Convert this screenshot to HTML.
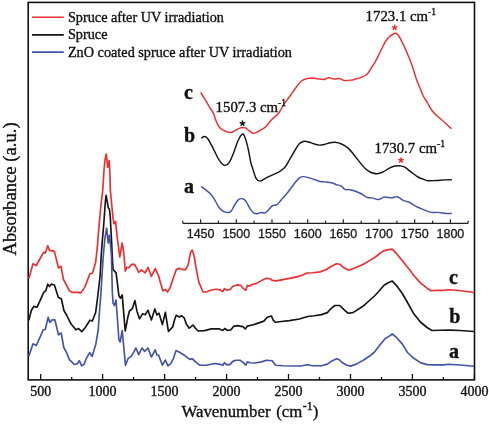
<!DOCTYPE html>
<html><head><meta charset="utf-8"><style>
html,body{margin:0;padding:0;background:#fff;}
svg{display:block;filter:blur(0.3px);}
text{font-family:"Liberation Serif",serif;fill:#111;stroke:#111;stroke-width:0.35px;}
.tl{font-size:14px;text-anchor:middle;}
.itl{font-family:"Liberation Sans",sans-serif;font-size:12.5px;text-anchor:middle;fill:#1a1a1a;stroke:#1a1a1a;stroke-width:0.3px;}
.lg{font-size:14.25px;}
.an{font-size:14.8px;}
.sup{font-size:9.5px;}
.ast{font-size:15px;text-anchor:middle;}
.cl{font-size:20px;font-weight:bold;}
.ax{font-size:16.8px;}
.axsup{font-size:12px;}
.ax2{font-size:18.7px;}
</style></head>
<body><svg width="489" height="424" viewBox="0 0 489 424">
<rect x="0" y="0" width="489" height="424" fill="#fff"/>
<rect x="28.2" y="2.4" width="446.3" height="377.5" fill="none" stroke="#111" stroke-width="1.6"/>
<path d="M40.7,379.9 V373.9 M102.6,379.9 V373.9 M164.6,379.9 V373.9 M226.6,379.9 V373.9 M288.5,379.9 V373.9 M350.5,379.9 V373.9 M412.4,379.9 V373.9 M474.4,379.9 V373.9 M71.7,379.9 V376.9 M133.6,379.9 V376.9 M195.6,379.9 V376.9 M257.5,379.9 V376.9 M319.5,379.9 V376.9 M381.5,379.9 V376.9 M443.4,379.9 V376.9" stroke="#111" stroke-width="1.3" fill="none"/>
<text x="40.7" y="396" class="tl">500</text>
<text x="102.6" y="396" class="tl">1000</text>
<text x="164.6" y="396" class="tl">1500</text>
<text x="226.6" y="396" class="tl">2000</text>
<text x="288.5" y="396" class="tl">2500</text>
<text x="350.5" y="396" class="tl">3000</text>
<text x="412.4" y="396" class="tl">3500</text>
<text x="474.4" y="396" class="tl">4000</text>
<path d="M182.8,223.3 H468.2 M200.6,223.3 V219.3 M236.3,223.3 V219.3 M272.0,223.3 V219.3 M307.7,223.3 V219.3 M343.3,223.3 V219.3 M379.0,223.3 V219.3 M414.7,223.3 V219.3 M450.4,223.3 V219.3 M182.8,223.3 V220.8 M218.4,223.3 V220.8 M254.1,223.3 V220.8 M289.8,223.3 V220.8 M325.5,223.3 V220.8 M361.2,223.3 V220.8 M396.9,223.3 V220.8 M432.6,223.3 V220.8 M468.2,223.3 V220.8" stroke="#222" stroke-width="1.2" fill="none"/>
<text x="200.6" y="237.8" class="itl">1450</text>
<text x="236.3" y="237.8" class="itl">1500</text>
<text x="272.0" y="237.8" class="itl">1550</text>
<text x="307.7" y="237.8" class="itl">1600</text>
<text x="343.3" y="237.8" class="itl">1650</text>
<text x="379.0" y="237.8" class="itl">1700</text>
<text x="414.7" y="237.8" class="itl">1750</text>
<text x="450.4" y="237.8" class="itl">1800</text>
<path d="M28.8,278.7 L33.0,263.8 L36.3,265.5 L40.4,258.0 L43.7,252.3 L45.3,253.1 L47.8,245.7 L49.5,250.6 L51.9,250.6 L54.4,251.4 L58.5,268.0 L61.0,266.3 L63.5,279.5 L69.3,290.7 L72.6,292.4 L77.5,292.4 L80.8,292.9 L85.0,286.9 L89.9,273.7 L92.4,273.2 L95.7,262.2 L97.5,245.0 L99.1,225.0 L100.8,206.5 L102.8,190.0 L104.0,170.0 L105.0,160.0 L106.3,154.0 L107.8,167.3 L109.2,160.5 L110.0,175.0 L110.3,190.0 L111.5,202.4 L112.7,214.8 L113.9,223.8 L115.6,221.4 L116.9,234.4 L119.8,257.0 L122.2,243.0 L123.8,253.1 L125.3,271.2 L126.9,267.3 L129.0,267.7 L131.6,264.3 L134.6,264.3 L138.8,272.4 L141.4,269.9 L145.2,272.8 L148.0,267.3 L151.4,276.3 L155.2,268.6 L158.6,275.8 L160.7,283.5 L162.9,290.7 L165.4,289.4 L167.5,292.0 L170.1,287.7 L173.5,277.5 L176.4,269.4 L179.9,268.4 L182.3,269.4 L185.6,269.7 L188.1,264.8 L190.6,252.4 L192.2,249.9 L193.9,254.9 L196.4,269.7 L198.8,282.1 L203.0,292.0 L206.3,292.0 L211.2,290.0 L216.2,289.2 L220.3,290.0 L222.8,291.5 L224.4,288.7 L226.9,290.3 L230.2,289.5 L232.7,286.5 L236.8,284.9 L240.9,285.4 L242.6,287.9 L245.8,290.3 L247.4,285.4 L249.1,286.2 L251.6,284.8 L256.5,283.4 L261.5,280.6 L266.4,278.3 L270.5,278.8 L272.2,280.4 L276.3,280.9 L282.9,279.6 L289.5,278.4 L297.8,276.6 L302.7,275.0 L306.8,273.0 L312.6,272.7 L320.0,271.9 L326.6,269.5 L331.5,266.2 L336.5,263.7 L339.8,264.2 L343.9,267.8 L348.8,270.3 L354.6,268.1 L362.9,264.5 L371.1,259.6 L375.0,257.3 L379.1,254.0 L383.2,251.1 L387.3,249.9 L392.3,249.1 L397.2,254.4 L403.0,261.5 L409.6,269.7 L413.8,275.5 L420.4,282.9 L427.0,288.2 L431.1,290.8 L436.9,290.3 L443.5,290.3 L448.5,289.8 L456.7,290.3 L465.0,291.2 L474.0,292.5" stroke="#ee2d2d" stroke-width="1.65" fill="none" stroke-linejoin="round"/>
<path d="M28.8,320.4 L31.3,310.5 L33.8,306.4 L37.1,307.2 L40.4,299.8 L43.7,292.4 L45.8,290.7 L47.8,284.1 L49.5,286.6 L51.1,284.1 L54.4,285.0 L58.3,297.3 L61.4,299.0 L63.9,310.5 L66.8,315.5 L70.9,323.8 L75.9,329.8 L78.6,328.6 L81.8,331.6 L85.3,327.5 L89.9,320.2 L92.4,321.0 L95.7,312.3 L97.9,295.0 L100.2,275.0 L101.1,257.0 L102.4,240.0 L103.7,225.0 L105.3,202.4 L106.1,195.4 L107.4,202.4 L108.2,207.7 L109.4,209.0 L110.3,217.2 L110.7,225.0 L111.5,240.0 L112.3,257.0 L113.1,269.6 L116.1,272.9 L118.9,295.7 L120.5,298.2 L122.2,294.9 L125.2,331.0 L127.9,317.0 L129.5,311.0 L132.3,308.7 L134.9,300.6 L137.0,311.4 L139.5,318.8 L142.5,313.8 L145.3,314.7 L148.0,310.2 L151.4,320.0 L154.8,308.9 L156.9,314.9 L159.0,313.2 L162.4,324.6 L165.4,312.3 L168.4,331.4 L172.6,327.2 L174.5,320.0 L176.2,315.3 L179.4,317.0 L181.5,315.7 L184.1,317.8 L186.6,324.6 L189.2,328.2 L193.0,325.1 L195.5,328.3 L198.1,331.0 L204.6,330.6 L211.2,328.9 L219.5,328.9 L222.8,330.5 L224.7,328.5 L227.7,330.5 L231.0,329.7 L233.5,326.4 L237.6,325.6 L240.9,326.4 L242.5,326.4 L245.3,328.9 L247.4,326.1 L253.2,324.8 L258.2,323.1 L263.9,321.1 L267.2,317.3 L271.4,316.0 L273.0,319.8 L275.5,322.3 L281.3,321.5 L289.5,320.6 L299.4,319.0 L307.7,316.5 L314.3,315.7 L321.6,314.6 L327.4,312.6 L330.7,308.8 L334.8,305.5 L339.8,305.5 L343.9,309.6 L348.0,313.2 L353.0,312.6 L362.9,306.3 L370.0,300.0 L375.0,295.5 L379.1,291.0 L384.0,285.2 L388.2,282.7 L392.3,281.1 L397.2,286.4 L402.0,293.0 L407.5,302.5 L413.8,313.8 L420.4,322.0 L427.0,327.5 L432.0,330.5 L440.2,330.3 L450.1,330.1 L460.0,330.5 L474.0,331.5" stroke="#141414" stroke-width="1.65" fill="none" stroke-linejoin="round"/>
<path d="M28.8,356.2 L33.0,343.8 L36.3,345.5 L40.4,336.4 L43.2,329.8 L45.3,329.5 L48.1,317.4 L49.9,322.4 L51.9,319.9 L54.9,319.9 L58.5,334.8 L61.2,333.0 L63.8,347.5 L66.6,352.6 L69.4,359.7 L74.2,364.4 L77.0,364.0 L79.3,360.7 L81.7,365.8 L84.0,364.4 L86.4,358.3 L89.7,352.6 L92.1,356.4 L95.8,344.2 L98.2,330.0 L99.6,310.0 L100.7,296.5 L103.2,257.0 L104.9,238.5 L106.6,228.2 L108.2,243.0 L109.4,235.2 L110.7,246.8 L111.5,257.0 L112.3,292.0 L113.1,303.1 L114.4,305.6 L116.0,300.0 L117.5,320.0 L118.9,339.5 L120.2,342.0 L122.2,330.5 L125.5,365.3 L128.0,358.7 L131.3,356.2 L133.7,352.1 L135.9,348.0 L138.7,354.6 L142.0,348.0 L144.5,351.3 L148.0,348.1 L151.4,357.0 L155.2,349.8 L156.9,354.9 L158.6,355.3 L162.4,365.1 L165.4,360.0 L168.0,365.9 L170.9,363.4 L173.5,358.3 L176.0,350.6 L179.0,352.0 L183.2,354.5 L186.5,356.9 L189.8,359.4 L192.2,358.6 L195.5,361.9 L199.7,365.2 L206.3,365.2 L214.5,363.5 L220.3,364.4 L222.8,365.2 L224.4,362.7 L226.9,364.9 L230.2,364.4 L232.7,361.4 L236.0,360.2 L240.1,360.2 L243.3,362.7 L245.8,365.2 L247.4,361.9 L249.9,362.7 L254.9,363.0 L261.5,361.9 L266.4,360.2 L272.2,360.7 L275.5,365.2 L282.9,365.7 L292.8,366.0 L301.1,366.0 L306.8,364.7 L312.6,365.7 L321.6,365.8 L327.4,364.1 L331.5,361.2 L336.5,358.7 L338.9,359.5 L342.2,362.5 L346.4,365.0 L350.5,366.1 L356.3,364.1 L364.5,359.5 L370.0,355.8 L374.1,352.5 L379.9,345.1 L385.3,338.5 L389.0,336.4 L392.3,334.0 L396.4,337.3 L402.2,343.9 L407.5,352.5 L413.8,358.3 L420.4,362.6 L427.0,364.6 L435.3,364.9 L443.5,364.9 L448.5,364.2 L460.0,365.0 L474.0,366.2" stroke="#4353a8" stroke-width="1.65" fill="none" stroke-linejoin="round"/>
<path d="M200.6,92.4 C201.3,93.6 203.6,96.9 205.0,99.3 C206.4,101.7 207.8,104.2 209.2,106.6 C210.6,108.9 212.4,111.2 213.5,113.4 C214.6,115.6 214.8,117.7 215.6,119.8 C216.4,121.9 217.5,124.4 218.6,126.0 C219.7,127.6 220.6,128.6 222.0,129.5 C223.4,130.4 225.5,131.2 227.1,131.7 C228.7,132.2 229.9,132.8 231.3,132.6 C232.7,132.4 233.9,131.1 235.4,130.3 C236.9,129.5 239.1,128.4 240.3,127.9 C241.5,127.4 241.9,127.4 242.7,127.4 C243.5,127.4 244.3,127.4 245.3,127.9 C246.3,128.4 247.4,129.4 248.6,130.3 C249.8,131.2 251.8,132.6 252.7,133.1 C253.6,133.6 253.2,133.3 254.0,133.1 C254.8,132.9 256.7,132.3 257.7,131.8 C258.7,131.3 258.5,131.2 259.9,130.3 C261.2,129.5 263.8,128.5 265.8,126.7 C267.8,124.9 269.8,121.6 271.8,119.5 C273.8,117.4 276.2,115.9 277.7,114.3 C279.2,112.7 279.5,111.8 280.7,109.9 C281.9,108.1 283.2,105.4 284.7,103.2 C286.2,101.0 287.7,99.2 289.6,96.5 C291.5,93.8 294.3,89.7 296.2,87.2 C298.1,84.7 299.5,82.7 301.2,81.3 C302.9,79.9 304.2,79.4 306.1,78.8 C308.0,78.2 310.8,77.9 312.7,77.9 C314.6,77.9 316.0,78.5 317.7,78.8 C319.4,79.0 321.4,79.3 322.6,79.4 C323.8,79.5 323.9,79.5 325.0,79.2 C326.1,78.9 327.6,77.8 329.1,77.8 C330.6,77.8 332.3,78.9 334.1,79.0 C335.9,79.1 338.1,78.3 339.9,78.6 C341.7,78.9 342.8,80.4 344.8,80.6 C346.9,80.8 350.5,80.2 352.2,80.0 C353.9,79.8 353.6,79.6 355.0,79.2 C356.4,78.8 358.6,78.6 360.7,77.7 C362.8,76.8 365.6,75.6 367.3,74.0 C369.0,72.4 369.8,70.2 371.0,68.3 C372.2,66.4 373.5,64.8 374.8,62.6 C376.1,60.4 377.3,57.6 378.6,55.1 C379.9,52.6 381.2,49.8 382.4,47.5 C383.5,45.2 384.4,43.2 385.5,41.5 C386.6,39.8 387.3,38.6 388.8,37.3 C390.3,36.0 393.0,34.0 394.4,33.5 C395.8,33.0 396.4,33.2 397.3,34.0 C398.2,34.8 399.0,36.2 400.1,38.2 C401.2,40.2 402.6,43.1 403.9,45.8 C405.1,48.5 406.3,51.0 407.6,54.2 C408.9,57.4 410.4,60.8 411.9,65.0 C413.4,69.2 415.1,75.4 416.5,79.5 C417.9,83.6 419.5,86.7 420.6,89.4 C421.7,92.1 421.9,93.3 423.0,95.5 C424.1,97.7 425.7,99.9 427.2,102.4 C428.7,104.9 430.2,108.2 432.1,110.7 C434.0,113.2 436.6,115.4 438.7,117.3 C440.8,119.2 442.4,120.3 444.5,122.2 C446.6,124.1 450.2,127.7 451.4,128.8" stroke="#ee2d2d" stroke-width="1.45" fill="none"/>
<path d="M201.1,138.2 C201.7,137.9 203.5,136.4 204.7,136.5 C205.8,136.6 206.6,137.1 208.0,139.0 C209.4,140.9 211.3,144.9 213.0,148.1 C214.7,151.3 216.4,155.4 217.9,158.0 C219.4,160.6 220.8,162.5 222.0,163.7 C223.2,164.9 224.1,165.7 225.3,165.4 C226.6,165.1 228.1,164.2 229.5,162.1 C230.9,160.0 232.2,156.4 233.6,153.0 C235.0,149.6 236.3,144.6 237.7,141.5 C239.1,138.4 240.7,135.5 241.8,134.5 C242.9,133.5 243.3,133.7 244.3,135.7 C245.3,137.7 246.5,141.9 247.6,146.4 C248.7,150.9 250.1,159.3 250.9,162.9 C251.7,166.5 251.7,165.4 252.5,167.9 C253.3,170.4 254.6,175.6 255.8,177.8 C257.0,180.0 258.4,181.0 259.9,181.1 C261.4,181.2 263.0,179.6 264.9,178.6 C266.8,177.6 269.3,176.4 271.5,175.3 C273.7,174.2 275.9,173.6 278.1,172.3 C280.3,171.0 282.8,169.7 284.7,167.6 C286.6,165.5 288.0,162.3 289.6,159.5 C291.2,156.7 293.0,153.5 294.6,150.8 C296.2,148.2 297.9,145.2 299.5,143.6 C301.1,142.0 302.9,141.4 304.5,141.2 C306.1,141.0 307.8,141.8 309.4,142.3 C311.0,142.8 312.8,143.5 314.4,144.0 C316.0,144.5 317.6,145.0 319.3,145.1 C321.0,145.2 322.5,144.9 324.3,144.5 C326.1,144.1 328.2,143.2 330.0,142.8 C331.8,142.4 333.0,142.1 334.9,142.3 C336.8,142.5 339.3,143.0 341.5,144.0 C343.7,145.0 346.0,146.3 348.1,148.1 C350.2,149.9 352.0,152.4 353.9,154.7 C355.8,157.0 357.8,159.8 359.7,162.1 C361.6,164.4 363.5,167.0 365.4,168.7 C367.3,170.4 369.3,171.7 371.2,172.5 C373.1,173.3 375.1,173.8 377.0,173.7 C378.9,173.6 380.7,172.9 382.8,172.0 C384.9,171.1 387.3,169.2 389.4,168.2 C391.4,167.2 393.4,166.4 395.1,166.0 C396.8,165.6 398.2,165.6 399.8,165.8 C401.4,166.0 402.9,166.1 404.8,167.2 C406.7,168.3 409.2,170.7 411.4,172.3 C413.6,173.9 415.9,175.8 418.0,177.0 C420.1,178.2 422.1,178.8 423.7,179.4 C425.3,180.0 425.8,180.5 427.9,180.7 C430.0,180.9 433.4,180.6 436.1,180.5 C438.9,180.4 441.8,180.0 444.4,179.9 C447.0,179.8 450.6,179.7 451.8,179.7" stroke="#141414" stroke-width="1.45" fill="none"/>
<path d="M201.1,186.7 C201.8,187.2 203.9,188.5 205.5,189.7 C207.1,190.9 209.0,192.2 210.5,193.8 C212.0,195.5 213.2,197.4 214.6,199.6 C216.0,201.8 217.3,205.1 218.7,207.0 C220.1,208.9 221.4,210.3 222.9,211.2 C224.4,212.1 226.4,212.5 227.8,212.5 C229.2,212.5 230.0,212.4 231.1,211.2 C232.2,210.0 233.2,207.3 234.4,205.4 C235.6,203.5 237.1,200.7 238.5,199.6 C239.9,198.5 241.4,198.5 242.7,198.8 C243.9,199.1 244.8,199.7 246.0,201.3 C247.2,203.0 248.8,206.7 250.1,208.7 C251.4,210.7 252.8,212.4 254.0,213.2 C255.2,214.0 256.2,213.8 257.3,213.7 C258.4,213.6 259.4,212.6 260.6,212.5 C261.9,212.4 263.6,213.2 264.8,212.9 C266.1,212.6 266.9,211.6 268.1,210.4 C269.3,209.2 270.7,206.9 272.2,205.9 C273.7,204.9 275.6,205.6 277.1,204.6 C278.6,203.6 279.5,201.8 281.3,199.7 C283.1,197.6 285.7,194.9 287.9,192.2 C290.1,189.4 292.6,185.6 294.5,183.2 C296.4,180.8 297.9,179.0 299.4,177.9 C300.9,176.8 301.9,176.6 303.5,176.6 C305.1,176.6 307.5,177.4 309.3,177.9 C311.1,178.4 312.5,178.9 314.3,179.5 C316.1,180.1 318.2,181.1 320.0,181.5 C321.8,181.9 323.1,181.7 325.0,181.9 C326.9,182.1 329.7,182.3 331.6,182.8 C333.5,183.3 335.0,184.1 336.6,184.7 C338.2,185.2 340.1,185.3 341.5,186.1 C342.9,186.9 343.4,188.8 344.8,189.4 C346.2,190.0 348.2,189.4 349.8,189.7 C351.4,190.0 353.1,190.4 354.7,191.0 C356.3,191.6 358.0,192.2 359.7,193.0 C361.4,193.8 363.3,195.2 364.6,196.0 C365.9,196.8 366.1,197.2 367.4,197.5 C368.7,197.8 370.5,197.6 372.3,197.9 C374.1,198.2 376.4,199.7 378.4,199.5 C380.4,199.3 382.3,197.3 384.5,197.0 C386.7,196.7 389.5,198.0 391.6,197.9 C393.7,197.8 395.4,196.3 397.3,196.7 C399.2,197.1 401.0,199.3 403.1,200.3 C405.2,201.3 407.6,201.5 409.7,202.5 C411.8,203.5 413.3,204.9 415.5,206.1 C417.7,207.2 420.3,208.3 422.9,209.4 C425.5,210.5 428.7,211.9 431.2,212.4 C433.7,212.9 435.3,212.2 437.8,212.4 C440.3,212.6 443.7,213.3 446.0,213.5 C448.3,213.7 450.8,213.5 451.8,213.5" stroke="#4353a8" stroke-width="1.45" fill="none"/>
<path d="M31.9,17.2 H63.8" stroke="#ee2d2d" stroke-width="1.6"/>
<text x="67.9" y="21.7" class="lg">Spruce after UV irradiation</text>
<path d="M31.9,34.9 H63.8" stroke="#141414" stroke-width="1.6"/>
<text x="67.9" y="39.4" class="lg">Spruce</text>
<path d="M31.9,52.1 H63.8" stroke="#4353a8" stroke-width="1.6"/>
<text x="67.9" y="56.5" class="lg">ZnO coated spruce after UV irradiation</text>
<text x="365.6" y="20.9" class="an">1723.1 cm<tspan dy="-5.6" class="sup">-1</tspan></text>
<text x="215.6" y="111.7" class="an">1507.3 cm<tspan dy="-5.6" class="sup">-1</tspan></text>
<text x="374.5" y="152.9" class="an">1730.7 cm<tspan dy="-5.6" class="sup">-1</tspan></text>
<path d="M394.70,27.60 L394.70,25.30 M394.70,27.60 L396.89,26.89 M394.70,27.60 L396.05,29.46 M394.70,27.60 L393.35,29.46 M394.70,27.60 L392.51,26.89" stroke="#ee2d2d" stroke-width="1.5" stroke-linecap="round" fill="none"/>
<path d="M242.50,123.40 L242.50,121.10 M242.50,123.40 L244.69,122.69 M242.50,123.40 L243.85,125.26 M242.50,123.40 L241.15,125.26 M242.50,123.40 L240.31,122.69" stroke="#111" stroke-width="1.5" stroke-linecap="round" fill="none"/>
<path d="M401.00,160.30 L401.00,158.00 M401.00,160.30 L403.19,159.59 M401.00,160.30 L402.35,162.16 M401.00,160.30 L399.65,162.16 M401.00,160.30 L398.81,159.59" stroke="#ee2d2d" stroke-width="1.5" stroke-linecap="round" fill="none"/>
<text x="183.9" y="98.6" class="cl">c</text>
<text x="184.1" y="141.5" class="cl">b</text>
<text x="184.1" y="193" class="cl">a</text>
<text x="449" y="283.8" class="cl">c</text>
<text x="449.3" y="322.6" class="cl">b</text>
<text x="449" y="357.7" class="cl">a</text>
<text x="181.5" y="416.8" class="ax">Wavenumber<tspan dx="1.5"> (cm</tspan><tspan dy="-7" dx="0.5" class="axsup">-1</tspan><tspan dy="7">)</tspan></text>
<text transform="translate(15.5,255.6) rotate(-90)" x="0" y="0" class="ax2">Absorbance (a.u.)</text>
</svg></body></html>
